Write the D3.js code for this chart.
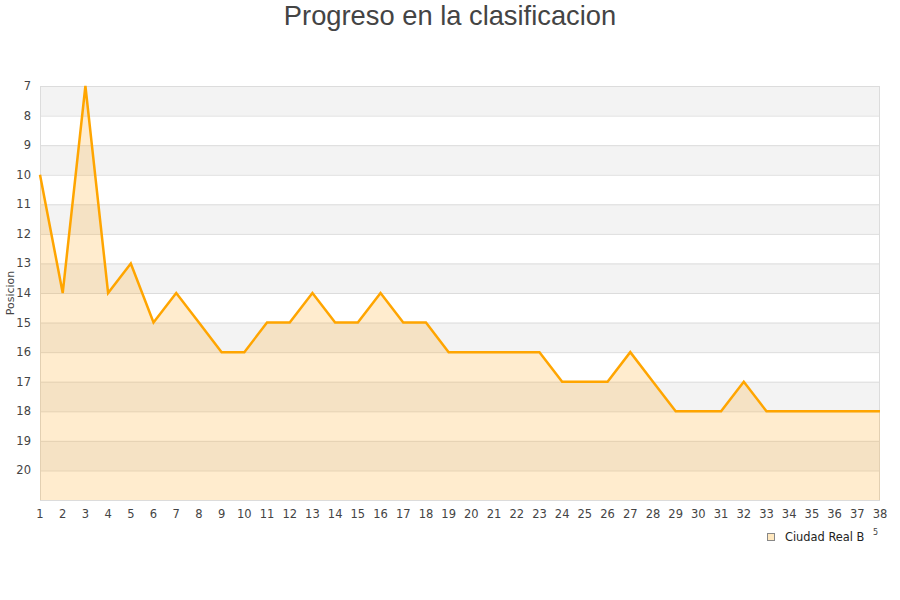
<!DOCTYPE html>
<html><head><meta charset="utf-8">
<script src="https://cdn.jsdelivr.net/npm/d3@7"></script>
<style>body{margin:0;background:#fff;}svg{display:block;}</style>
</head><body>
<svg id="c" width="900" height="600"></svg>
<script>
const jornadas = d3.range(1, 39);
const posiciones = [10,14,7,14,13,15,14,15,16,16,15,15,14,15,15,14,15,15,16,16,16,16,16,17,17,17,16,17,18,18,18,17,18,18,18,18,18,18];
const yTicks = [7,8,9,10,11,12,13,14,15,16,17,18,19,20];
const title = "Progreso en la clasificacion";
const yLabel = "Posicion";
const serieName = "Ciudad Real B";

const svg = d3.select("#c");
const m = {l:40, r:880, t:86, b:500};
const x = d3.scaleLinear().domain([1,38]).range([m.l, m.r]);
const y = d3.scaleLinear().domain([7,21]).range([m.t, m.b]);

const bands = d3.range(7, 21);
svg.append("g").selectAll("rect").data(bands).join("rect")
  .attr("x", m.l).attr("width", m.r - m.l)
  .attr("y", d => y(d)).attr("height", d => y(d+1) - y(d))
  .attr("fill", (d,i) => i % 2 === 0 ? "#f3f3f3" : "#ffffff");
svg.append("g").selectAll("line").data(d3.range(7, 22)).join("line")
  .attr("x1", m.l).attr("x2", m.r)
  .attr("y1", d => y(d)+0.5).attr("y2", d => y(d)+0.5)
  .attr("stroke", "#dcdcdc").attr("stroke-width", 1);
svg.append("rect").attr("x", m.l+0.5).attr("y", m.t+0.5)
  .attr("width", m.r - m.l - 1).attr("height", m.b - m.t)
  .attr("fill", "none").attr("stroke", "#dcdcdc");

const data = jornadas.map((j,i) => ({j, p: posiciones[i]}));
svg.append("path").datum(data)
  .attr("d", d3.area().x(d => x(d.j)).y0(y(21)).y1(d => y(d.p)))
  .attr("fill", "rgb(255,170,30)").attr("fill-opacity", 0.22);
svg.append("path").datum(data)
  .attr("d", d3.line().x(d => x(d.j)).y(d => y(d.p)))
  .attr("fill", "none").attr("stroke", "#ffa500").attr("stroke-width", 2.5)
  .attr("stroke-linejoin", "miter");

const font = "DejaVu Sans, sans-serif";
svg.append("g").selectAll("text").data(yTicks).join("text")
  .attr("x", 31).attr("y", d => y(d)).attr("dy", "0.35em")
  .attr("text-anchor", "end").attr("font-family", font).attr("font-size", 11.5)
  .attr("fill", "#444").text(d => d);
svg.append("g").selectAll("text").data(jornadas).join("text")
  .attr("x", d => x(d)).attr("y", 518)
  .attr("text-anchor", "middle").attr("font-family", font).attr("font-size", 11.5)
  .attr("fill", "#444").text(d => d);

svg.append("text").attr("transform", "translate(14,293) rotate(-90)")
  .attr("text-anchor", "middle").attr("font-family", font).attr("font-size", 11)
  .attr("fill", "#444").text(yLabel);

svg.append("text").attr("x", 450).attr("y", 25)
  .attr("text-anchor", "middle").attr("font-family", "Liberation Sans, Arial, sans-serif")
  .attr("font-size", 27.3).attr("fill", "#444").text(title);

svg.append("rect").attr("x", 767.5).attr("y", 533.5).attr("width", 7).attr("height", 7)
  .attr("fill", "#ffe8bf").attr("stroke", "#888");
svg.append("text").attr("x", 785).attr("y", 541)
  .attr("font-family", font).attr("font-size", 11.4).attr("fill", "#222").text(serieName);
svg.append("text").attr("x", 873).attr("y", 535)
  .attr("font-family", font).attr("font-size", 8).attr("fill", "#444").text("5");
</script>
</body></html>
